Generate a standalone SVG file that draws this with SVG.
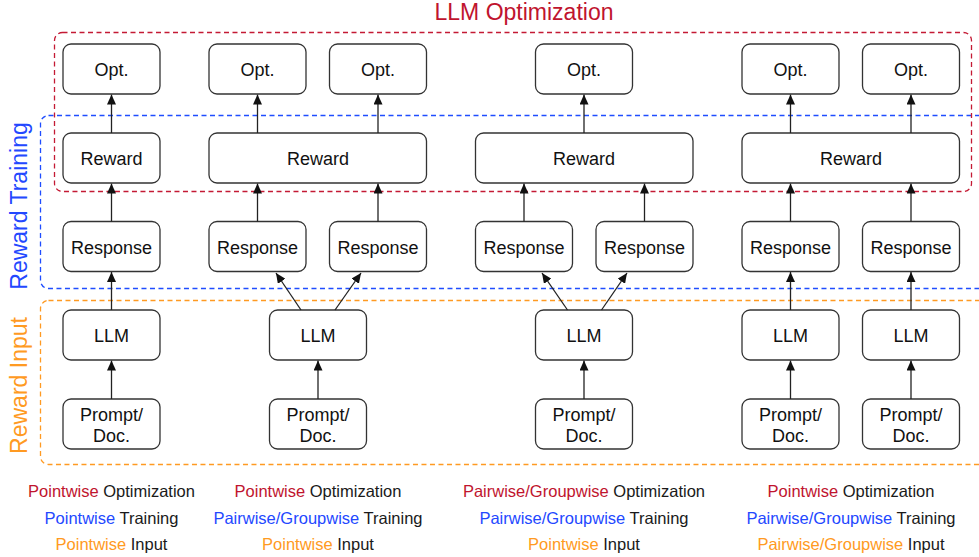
<svg xmlns="http://www.w3.org/2000/svg" width="979" height="557" viewBox="0 0 979 557">
<style>
.box{fill:#fff;stroke:#333;stroke-width:1.3}
.bt{font-family:"Liberation Sans",Arial,sans-serif;font-size:18px;fill:#111;text-anchor:middle}
.cn{stroke:#222;stroke-width:1.3;fill:none;marker-end:url(#ah)}
.lab{font-family:"Liberation Sans",Arial,sans-serif;font-size:16.5px;fill:#1a1a1a;text-anchor:middle}
.r{fill:#c0142e}.b{fill:#2348ff}.o{fill:#ff9a22}
.dash{fill:none;stroke-width:1.3;stroke-dasharray:5 3.5}
</style>
<defs>
<marker id="ah" markerUnits="userSpaceOnUse" markerWidth="10" markerHeight="9" refX="10" refY="4.5" orient="auto">
<path d="M0,0 L10,4.5 L0,9 z" fill="#111"/>
</marker>
</defs>
<rect width="979" height="557" fill="#fff"/>

<g id="regions">
<rect class="dash" x="40.5" y="115.5" width="960" height="173" rx="8" stroke="#1f4dff"/>
<rect class="dash" x="40.5" y="300.5" width="960" height="164" rx="8" stroke="#ff9a22"/>
<rect class="dash" x="54.5" y="32.5" width="917" height="159" rx="8" stroke="#c41a34"/>
<text x="524" y="20" font-family="Liberation Sans, Arial, sans-serif" font-size="23" fill="#c0142e" text-anchor="middle">LLM Optimization</text>
<text transform="translate(27,206) rotate(-90)" font-family="Liberation Sans, Arial, sans-serif" font-size="23" fill="#2348ff" text-anchor="middle">Reward Training</text>
<text transform="translate(27,385.5) rotate(-90)" font-family="Liberation Sans, Arial, sans-serif" font-size="23" fill="#ff9a22" text-anchor="middle">Reward Input</text>
</g>

<!-- Column A -->
<g id="optA"><rect class="box" x="63" y="44" width="97" height="50" rx="8"/><text class="bt" x="111.5" y="75.5">Opt.</text></g>
<g id="rewardA"><rect class="box" x="63" y="133" width="97" height="50" rx="8"/><text class="bt" x="111.5" y="164.5">Reward</text></g>
<g id="respA"><rect class="box" x="63" y="221.5" width="97" height="50" rx="8"/><text class="bt" x="111.5" y="253.5">Response</text></g>
<g id="llmA"><rect class="box" x="63" y="310" width="97" height="50" rx="8"/><text class="bt" x="111.5" y="342">LLM</text></g>
<g id="promptA"><rect class="box" x="63" y="399" width="97" height="50" rx="8"/><text class="bt" x="111.5" y="421">Prompt/</text><text class="bt" x="111.5" y="442">Doc.</text></g>

<!-- Column B -->
<g id="optB1"><rect class="box" x="209" y="44" width="97" height="50" rx="8"/><text class="bt" x="257.5" y="75.5">Opt.</text></g>
<g id="optB2"><rect class="box" x="329.5" y="44" width="97" height="50" rx="8"/><text class="bt" x="378" y="75.5">Opt.</text></g>
<g id="rewardB"><rect class="box" x="209" y="133" width="217.5" height="50" rx="8"/><text class="bt" x="318" y="164.5">Reward</text></g>
<g id="respB1"><rect class="box" x="209" y="221.5" width="97" height="50" rx="8"/><text class="bt" x="257.5" y="253.5">Response</text></g>
<g id="respB2"><rect class="box" x="329.5" y="221.5" width="97" height="50" rx="8"/><text class="bt" x="378" y="253.5">Response</text></g>
<g id="llmB"><rect class="box" x="269.5" y="310" width="97" height="50" rx="8"/><text class="bt" x="318" y="342">LLM</text></g>
<g id="promptB"><rect class="box" x="269.5" y="399" width="97" height="50" rx="8"/><text class="bt" x="318" y="421">Prompt/</text><text class="bt" x="318" y="442">Doc.</text></g>

<!-- Column C -->
<g id="optC"><rect class="box" x="535.5" y="44" width="97" height="50" rx="8"/><text class="bt" x="584" y="75.5">Opt.</text></g>
<g id="rewardC"><rect class="box" x="475.5" y="133" width="217.5" height="50" rx="8"/><text class="bt" x="584" y="164.5">Reward</text></g>
<g id="respC1"><rect class="box" x="475.5" y="221.5" width="97" height="50" rx="8"/><text class="bt" x="524" y="253.5">Response</text></g>
<g id="respC2"><rect class="box" x="596" y="221.5" width="97" height="50" rx="8"/><text class="bt" x="644.5" y="253.5">Response</text></g>
<g id="llmC"><rect class="box" x="535.5" y="310" width="97" height="50" rx="8"/><text class="bt" x="584" y="342">LLM</text></g>
<g id="promptC"><rect class="box" x="535.5" y="399" width="97" height="50" rx="8"/><text class="bt" x="584" y="421">Prompt/</text><text class="bt" x="584" y="442">Doc.</text></g>

<!-- Column D -->
<g id="optD1"><rect class="box" x="742" y="44" width="97" height="50" rx="8"/><text class="bt" x="790.5" y="75.5">Opt.</text></g>
<g id="optD2"><rect class="box" x="862.5" y="44" width="97" height="50" rx="8"/><text class="bt" x="911" y="75.5">Opt.</text></g>
<g id="rewardD"><rect class="box" x="742" y="133" width="217.5" height="50" rx="8"/><text class="bt" x="851" y="164.5">Reward</text></g>
<g id="respD1"><rect class="box" x="742" y="221.5" width="97" height="50" rx="8"/><text class="bt" x="790.5" y="253.5">Response</text></g>
<g id="respD2"><rect class="box" x="862.5" y="221.5" width="97" height="50" rx="8"/><text class="bt" x="911" y="253.5">Response</text></g>
<g id="llmD1"><rect class="box" x="742" y="310" width="97" height="50" rx="8"/><text class="bt" x="790.5" y="342">LLM</text></g>
<g id="llmD2"><rect class="box" x="862.5" y="310" width="97" height="50" rx="8"/><text class="bt" x="911" y="342">LLM</text></g>
<g id="promptD1"><rect class="box" x="742" y="399" width="97" height="50" rx="8"/><text class="bt" x="790.5" y="421">Prompt/</text><text class="bt" x="790.5" y="442">Doc.</text></g>
<g id="promptD2"><rect class="box" x="862.5" y="399" width="97" height="50" rx="8"/><text class="bt" x="911" y="421">Prompt/</text><text class="bt" x="911" y="442">Doc.</text></g>

<g id="connectors">
<!-- A -->
<line class="cn" x1="111.5" y1="133" x2="111.5" y2="94.5"/>
<line class="cn" x1="111.5" y1="221.5" x2="111.5" y2="183.5"/>
<line class="cn" x1="111.5" y1="310" x2="111.5" y2="272"/>
<line class="cn" x1="111.5" y1="399" x2="111.5" y2="360.5"/>
<!-- B -->
<line class="cn" x1="257.5" y1="133" x2="257.5" y2="94.5"/>
<line class="cn" x1="378" y1="133" x2="378" y2="94.5"/>
<line class="cn" x1="257.5" y1="221.5" x2="257.5" y2="183.5"/>
<line class="cn" x1="378" y1="221.5" x2="378" y2="183.5"/>
<line class="cn" x1="301" y1="310" x2="276" y2="273"/>
<line class="cn" x1="335" y1="310" x2="361" y2="273"/>
<line class="cn" x1="318" y1="399" x2="318" y2="360.5"/>
<!-- C -->
<line class="cn" x1="584" y1="133" x2="584" y2="94.5"/>
<line class="cn" x1="524" y1="221.5" x2="524" y2="183.5"/>
<line class="cn" x1="644.5" y1="221.5" x2="644.5" y2="183.5"/>
<line class="cn" x1="567.5" y1="310" x2="542" y2="273"/>
<line class="cn" x1="601.5" y1="310" x2="627" y2="273"/>
<line class="cn" x1="584" y1="399" x2="584" y2="360.5"/>
<!-- D -->
<line class="cn" x1="790.5" y1="133" x2="790.5" y2="94.5"/>
<line class="cn" x1="911" y1="133" x2="911" y2="94.5"/>
<line class="cn" x1="790.5" y1="221.5" x2="790.5" y2="183.5"/>
<line class="cn" x1="911" y1="221.5" x2="911" y2="183.5"/>
<line class="cn" x1="790.5" y1="310" x2="790.5" y2="272"/>
<line class="cn" x1="911" y1="310" x2="911" y2="272"/>
<line class="cn" x1="790.5" y1="399" x2="790.5" y2="360.5"/>
<line class="cn" x1="911" y1="399" x2="911" y2="360.5"/>
</g>

<g id="legend">
<text class="lab" x="111.5" y="497"><tspan class="r">Pointwise</tspan> Optimization</text>
<text class="lab" x="111.5" y="523.5"><tspan class="b">Pointwise</tspan> Training</text>
<text class="lab" x="111.5" y="550"><tspan class="o">Pointwise</tspan> Input</text>
<text class="lab" x="318" y="497"><tspan class="r">Pointwise</tspan> Optimization</text>
<text class="lab" x="318" y="523.5"><tspan class="b">Pairwise/Groupwise</tspan> Training</text>
<text class="lab" x="318" y="550"><tspan class="o">Pointwise</tspan> Input</text>
<text class="lab" x="584" y="497"><tspan class="r">Pairwise/Groupwise</tspan> Optimization</text>
<text class="lab" x="584" y="523.5"><tspan class="b">Pairwise/Groupwise</tspan> Training</text>
<text class="lab" x="584" y="550"><tspan class="o">Pointwise</tspan> Input</text>
<text class="lab" x="851" y="497"><tspan class="r">Pointwise</tspan> Optimization</text>
<text class="lab" x="851" y="523.5"><tspan class="b">Pairwise/Groupwise</tspan> Training</text>
<text class="lab" x="851" y="550"><tspan class="o">Pairwise/Groupwise</tspan> Input</text>
</g>
</svg>
